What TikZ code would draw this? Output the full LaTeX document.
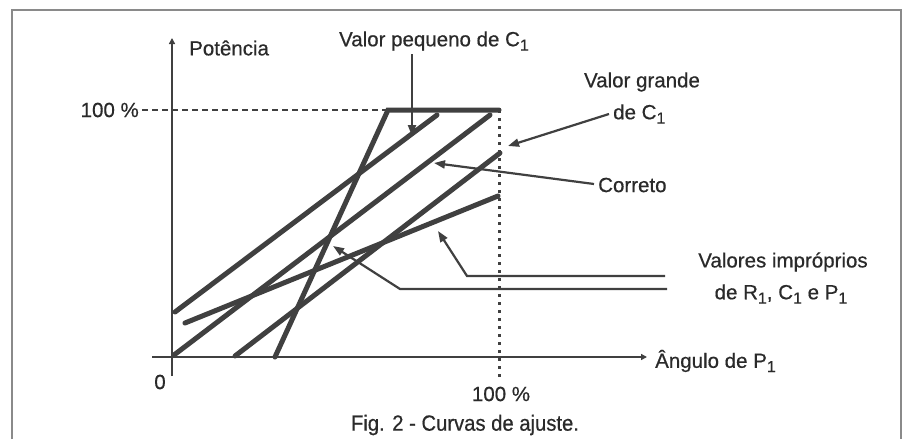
\documentclass[tikz,border=0pt]{standalone}
\usepackage{fontspec}
\setmainfont{Liberation Sans}[FakeBold=0.5]
\usetikzlibrary{arrows.meta}
\definecolor{ink}{HTML}{404040}
\definecolor{txt}{HTML}{2A2A2A}
\definecolor{frame}{HTML}{8A8A8A}
\newcommand{\mysub}[1]{\raisebox{-0.4ex}{\fontsize{16}{16}\selectfont #1}}
\tikzset{
  curve/.style={draw=ink, line width=5pt, line cap=round},
  axis/.style={draw=ink, line width=2.8pt},
  note/.style={draw=ink, line width=2.2pt, -{Triangle[length=11pt,width=8pt]}},
  lbl/.style={text=txt, font=\fontsize{20.5}{24}\selectfont, inner sep=0pt},
  guide/.style={draw=ink, line width=2.8pt, dash pattern=on 6pt off 4pt},
  dotguide/.style={draw=ink, line width=3pt, dash pattern=on 3pt off 5pt}
}
\begin{document}
\begin{tikzpicture}[x=1pt,y=-1pt]
\useasboundingbox (0,0) rectangle (910,439);
\fill[white] (0,0) rectangle (910,439);
% frame
\draw[frame, line width=1.5pt] (12,439) -- (12,10) -- (901,10) -- (901,439);
% axes
\coordinate (yb) at (172,376);
\coordinate (yt) at (172,38);
\coordinate (xl) at (152,357);
\coordinate (xr) at (647,357);
\draw[axis, -{Triangle[length=6pt,width=6pt]}] (yb) -- (yt);
\draw[axis, -{Triangle[length=6pt,width=6pt]}] (xl) -- (xr);
% guides
\coordinate (g1) at (142,110);
\coordinate (g2) at (388,110);
\coordinate (g3) at (499,110);
\coordinate (g4) at (499,378);
\draw[guide] (g1) -- (g2);
\draw[dotguide] (g3) -- (g4);
% curves
\coordinate (s0) at (275,357);
\draw[curve] (s0) -- (g2) -- (g3);
\coordinate (a0) at (175,312); \coordinate (a1) at (437,115);
\draw[curve] (a0) -- (a1);
\coordinate (b0) at (185,323); \coordinate (b1) at (498,196);
\draw[curve] (b0) -- (b1);
\coordinate (c0) at (174,355); \coordinate (c1) at (490,115);
\draw[curve] (c0) -- (c1);
\coordinate (d0) at (235,356); \coordinate (d1) at (500,153);
\draw[curve] (d0) -- (d1);
% labels
\node[lbl, anchor=west] (pot) at (189,48) {Potência};
\node[lbl, anchor=east] (h1) at (139,110) {100 \%};
\node[lbl] (zero) at (160,382) {0};
\node[lbl] (h2) at (501,394) {100 \%};
\node[lbl, anchor=west] (ang) at (655,361) {Ângulo de P\mysub{1}};
\node[lbl] (vp) at (434,41) {Valor pequeno de C\mysub{1}};
\node[lbl] (vg) at (642,82) {Valor grande};
\node[lbl, anchor=west] (vg2) at (613,114) {de C\mysub{1}};
\node[lbl, anchor=west] (cor) at (598,185) {Correto};
\node[lbl] (vi) at (783,262) {Valores impróprios};
\node[lbl] (vi2) at (781,294) {de R\mysub{1}, C\mysub{1} e P\mysub{1}};
\node[lbl] (fig) at (465,425) {\scalebox{0.92}[1]{\fontsize{22}{24}\selectfont Fig. 2 - Curvas de ajuste.}};
% annotation arrows
\coordinate (p0) at (412,54); \coordinate (p1) at (412,136);
\draw[note] (p0) -- (p1);
\coordinate (q0) at (609,114); \coordinate (q1) at (508,146);
\draw[note] (q0) -- (q1);
\coordinate (r0) at (594,184); \coordinate (r1) at (434,163);
\draw[note] (r0) -- (r1);
\coordinate (t0) at (665,276); \coordinate (t1) at (467,276); \coordinate (t2) at (438,231);
\draw[note] (t0) -- (t1) -- (t2);
\coordinate (u0) at (667,289); \coordinate (u1) at (400,289); \coordinate (u2) at (333,246);
\draw[note] (u0) -- (u1) -- (u2);
\end{tikzpicture}
\end{document}
